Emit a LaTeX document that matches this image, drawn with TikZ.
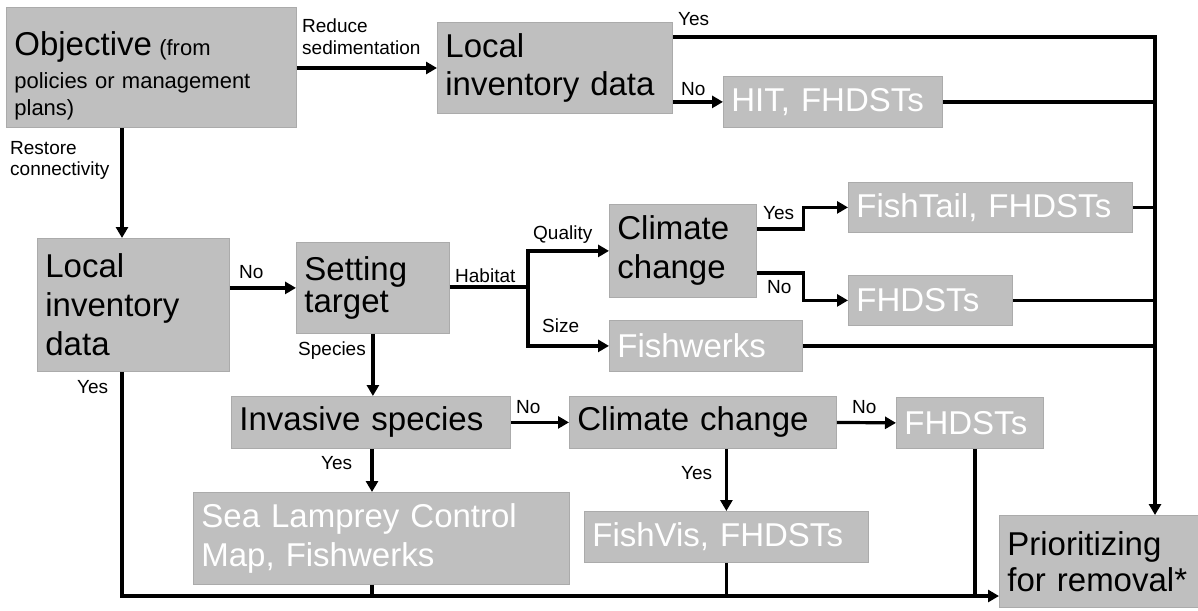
\documentclass[tikz,border=0pt]{standalone}
\usepackage{tikz}
\usetikzlibrary{arrows.meta,calc}
\usepackage{fontspec}
\setmainfont{Liberation Sans}
\definecolor{boxgray}{HTML}{BFBFBF}
\definecolor{boxedge}{HTML}{ABABAB}

\begin{document}
\begin{tikzpicture}[x=1pt,y=-1pt,
  box/.style={rectangle, draw=boxedge, line width=0.8pt, fill=boxgray, anchor=north west,
    inner xsep=8pt, inner ysep=0pt, align=left, font=\fontsize{33}{38}\selectfont},
  tool/.style={box, text=white},
  lbl/.style={inner sep=0pt, anchor=base west, font=\fontsize{19}{21}\selectfont},
  link/.style={line width=3.2pt},
  arr/.style={link, -{Triangle[length=11pt,width=12pt]}}]
  \useasboundingbox (0,0) rectangle (1198,610);

  % boxes
  \node[box, minimum width=290, minimum height=120, text width=274pt, font=\fontsize{22}{27}\selectfont] (obj) at (6,7)
    {\rule{0pt}{40pt}{\fontsize{33}{38}\selectfont Objective} (from\\[6pt]policies or management\\plans)};
  \node[box, minimum width=235, minimum height=91, text width=219pt] (locA) at (437,22) {Local\\inventory data};
  \node[tool, minimum width=219, minimum height=51, text width=203pt] (hit) at (723,76) {HIT, FHDSTs};
  \node[box, minimum width=192, minimum height=133, text width=176pt, font=\fontsize{33}{39}\selectfont] (locB) at (37,238) {Local\\inventory\\data};
  \node[box, minimum width=153, minimum height=91, text width=137pt, font=\fontsize{33}{32}\selectfont] (setting) at (296,242) {Setting\\target};
  \node[box, minimum width=147, minimum height=93, text width=131pt, font=\fontsize{33}{39}\selectfont] (clim1) at (609,204) {Climate\\change};
  \node[tool, minimum width=284, minimum height=50, text width=268pt] (fishtail) at (848,182) {FishTail, FHDSTs};
  \node[tool, minimum width=164, minimum height=50, text width=148pt] (fhd1) at (848,275) {FHDSTs};
  \node[tool, minimum width=193, minimum height=51, text width=177pt] (fishw) at (609,320) {Fishwerks};
  \node[box, minimum width=279, minimum height=52, text width=263pt] (inv) at (231,396) {Invasive species};
  \node[box, minimum width=267, minimum height=52, text width=251pt] (clim2) at (569,396) {Climate change};
  \node[tool, minimum width=147, minimum height=51, text width=131pt] (fhd2) at (896,397) {FHDSTs};
  \node[tool, minimum width=376, minimum height=92, text width=360pt, font=\fontsize{33}{39}\selectfont] (lamprey) at (193,492) {Sea Lamprey Control\\Map, Fishwerks};
  \node[tool, minimum width=284, minimum height=51, text width=268pt] (fishvis) at (584,511) {FishVis, FHDSTs};
  \node[box, minimum width=199, minimum height=92, text width=183pt, font=\fontsize{33}{36}\selectfont] (prio) at (999,515) {Prioritizing\\for removal*};

  % labels
  \node[lbl, anchor=north west, align=left, font=\fontsize{19}{22}\selectfont] (lsed) at (302,19) {Reduce\\sedimentation};
  \node[lbl, anchor=north west, align=left] (lcon) at (10,141) {Restore\\connectivity};
  \node[lbl] (lyesA) at (678,26) {Yes};
  \node[lbl] (lnoA) at (681,95) {No};
  \node[lbl] (lnoB) at (239,278) {No};
  \node[lbl] (lhab) at (455,282) {Habitat};
  \node[lbl] (lqual) at (533,239) {Quality};
  \node[lbl] (lsize) at (542,332) {Size};
  \node[lbl] (lyesC) at (763,219) {Yes};
  \node[lbl] (lnoC) at (767,293) {No};
  \node[lbl] (lspec) at (298,355) {Species};
  \node[lbl] (lyesB) at (77,393) {Yes};
  \node[lbl] (lnoI) at (516,413) {No};
  \node[lbl] (lnoD) at (852,413) {No};
  \node[lbl] (lyesI) at (321,469) {Yes};
  \node[lbl] (lyesD) at (681,479) {Yes};

  % sedimentation branch
  \coordinate (trunk) at (1155,37);
  \draw[arr] (obj.east |- 0,68) -- (locA.west |- 0,68);
  \draw[arr] (locA.east |- trunk) -- (trunk) -- (trunk |- prio.north);
  \draw[arr] (locA.east |- hit.west) -- (hit.west);
  \draw[link] (hit.east) -- (hit.east -| trunk);

  % connectivity branch
  \coordinate (hab) at (528,287);
  \draw[arr] (obj.south -| 122,0) -- (locB.north -| 122,0);
  \draw[arr] (locB.east |- setting.west) -- (setting.west);
  \draw[link] (setting.east |- hab) -- (hab);
  \draw[arr] (hab) |- (clim1.west);
  \draw[arr] (hab) |- (fishw.west);
  \draw[arr] (clim1.east |- 0,229) -- ++(47,0) |- (fishtail.west);
  \draw[arr] (clim1.east |- 0,273) -- ++(47,0) |- (fhd1.west);
  \draw[link] (fishtail.east) -- (fishtail.east -| trunk);
  \draw[link] (fhd1.east) -- (fhd1.east -| trunk);
  \draw[link] (fishw.east) -- (fishw.east -| trunk);

  % species branch
  \draw[arr] (setting.south) -- (setting.south |- inv.north);
  \draw[arr] (inv.east) -- (clim2.west);
  \draw[arr] (clim2.east) -- (fhd2.west);
  \draw[arr] (inv.south -| 372,0) -- (lamprey.north -| 372,0);
  \draw[arr] (fishvis.north |- clim2.south) -- (fishvis.north);

  % bottom collector
  \coordinate (bot) at (122,596);
  \draw[arr] (locB.south -| bot) -- (bot) -- (prio.west |- bot);
  \draw[link] (lamprey.south -| 372,0) -- (bot -| 372,0);
  \draw[link] (fishvis.south) -- (fishvis.south |- bot);
  \draw[link] (fhd2.south -| 975,0) -- (bot -| 975,0);
\end{tikzpicture}
\end{document}
